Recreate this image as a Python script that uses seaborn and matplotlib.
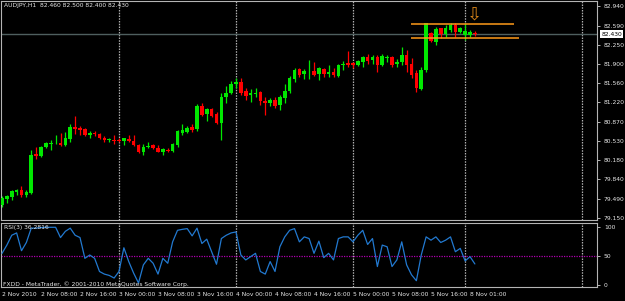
import numpy as np
import pandas as pd
import matplotlib
matplotlib.use("Agg")
import matplotlib.pyplot as plt
import seaborn as sns
from matplotlib import font_manager as fm

# ---------------- data ----------------
symbol_title = "AUDJPY,H1  82.460 82.500 82.400 82.430"
rsi_title = "RSI(3) 36.2816"
copyright_text = "FXDD - MetaTrader, \u00a9 2001-2010 MetaQuotes Software Corp."

opens = [79.382, 79.489, 79.525, 79.614, 79.650, 79.560, 79.596, 80.294, 80.258, 80.419,
         80.472, 80.481, 80.490, 80.454, 80.562, 80.776, 80.758, 80.740, 80.633, 80.669,
         80.651, 80.588, 80.544, 80.544, 80.549, 80.526, 80.567, 80.531, 80.454, 80.335,
         80.413, 80.449, 80.406, 80.335, 80.370, 80.352, 80.449, 80.674, 80.692, 80.782,
         80.735, 81.157, 81.003, 81.093, 81.003, 80.842, 81.318, 81.379, 81.545, 81.586,
         81.420, 81.348, 81.366, 81.407, 81.241, 81.200, 81.259, 81.170, 81.289, 81.425,
         81.629, 81.808, 81.724, 81.772, 81.783, 81.719, 81.813, 81.724, 81.765, 81.693,
         81.885, 81.915, 81.915, 81.885, 81.944, 82.033, 81.974, 82.033, 81.885, 82.015,
         82.022, 81.903, 81.944, 82.064, 81.903, 81.736, 81.456, 81.795, 82.452, 82.301,
         82.541, 82.439, 82.511, 82.600, 82.480, 82.421, 82.421, 82.460]
highs = [79.543, 79.560, 79.650, 79.668, 79.721, 79.650, 80.365, 80.419, 80.437, 80.508,
         80.544, 80.633, 80.669, 80.687, 80.830, 80.973, 80.794, 80.758, 80.705, 80.705,
         80.669, 80.615, 80.580, 80.633, 80.580, 80.588, 80.633, 80.633, 80.472, 80.472,
         80.508, 80.472, 80.454, 80.401, 80.401, 80.490, 80.723, 80.830, 80.794, 80.830,
         81.187, 81.205, 81.116, 81.116, 81.044, 81.379, 81.509, 81.604, 81.652, 81.658,
         81.468, 81.450, 81.474, 81.420, 81.307, 81.289, 81.307, 81.348, 81.545, 81.688,
         81.837, 81.837, 81.813, 81.974, 81.933, 81.854, 81.826, 81.885, 81.826, 81.903,
         81.956, 82.140, 81.944, 81.974, 82.046, 82.081, 82.064, 82.064, 82.081, 82.064,
         82.046, 81.992, 82.201, 82.153, 82.005, 81.795, 81.854, 82.641, 82.480, 82.570,
         82.555, 82.600, 82.630, 82.630, 82.570, 82.636, 82.511, 82.500]
lows = [79.346, 79.417, 79.471, 79.560, 79.525, 79.525, 79.578, 80.204, 80.240, 80.401,
        80.365, 80.472, 80.445, 80.437, 80.508, 80.651, 80.633, 80.615, 80.580, 80.615,
        80.562, 80.508, 80.499, 80.472, 80.508, 80.454, 80.508, 80.445, 80.311, 80.267,
        80.401, 80.383, 80.320, 80.276, 80.329, 80.329, 80.419, 80.633, 80.669, 80.687,
        80.710, 80.973, 80.884, 80.955, 80.830, 80.544, 81.211, 81.366, 81.474, 81.348,
        81.259, 81.229, 81.313, 81.170, 80.991, 81.157, 81.116, 81.080, 81.200, 81.379,
        81.586, 81.665, 81.629, 81.629, 81.688, 81.617, 81.676, 81.676, 81.665, 81.676,
        81.795, 81.844, 81.826, 81.867, 81.854, 81.903, 81.903, 81.765, 81.867, 81.944,
        81.854, 81.854, 81.885, 81.765, 81.647, 81.407, 81.438, 81.765, 82.301, 82.242,
        82.362, 82.391, 82.480, 82.391, 82.452, 82.332, 82.391, 82.400]
closes = [79.507, 79.543, 79.632, 79.650, 79.560, 79.614, 80.276, 80.249, 80.410, 80.490,
          80.490, 80.490, 80.454, 80.580, 80.776, 80.740, 80.723, 80.624, 80.669, 80.642,
          80.571, 80.544, 80.549, 80.526, 80.526, 80.580, 80.526, 80.454, 80.335, 80.419,
          80.437, 80.406, 80.329, 80.383, 80.352, 80.472, 80.705, 80.728, 80.764, 80.723,
          81.146, 80.991, 81.098, 80.978, 80.853, 81.318, 81.390, 81.545, 81.586, 81.390,
          81.331, 81.379, 81.390, 81.241, 81.200, 81.259, 81.157, 81.307, 81.425, 81.647,
          81.795, 81.706, 81.783, 81.783, 81.706, 81.826, 81.719, 81.754, 81.701, 81.885,
          81.903, 81.885, 81.885, 81.956, 82.022, 81.962, 82.022, 81.885, 82.046, 82.033,
          81.885, 81.944, 82.064, 81.885, 81.706, 81.468, 81.795, 82.630, 82.319, 82.528,
          82.439, 82.541, 82.600, 82.480, 82.541, 82.498, 82.480, 82.430]
rsi = [54.5, 68.8, 85.8, 89.8, 59.1, 73.3, 98.0, 98.0, 99.0, 99.5,
       99.5, 99.5, 81.8, 92.6, 98.0, 85.8, 81.8, 46.0, 51.7, 46.0,
       23.3, 18.8, 16.5, 12.0, 23.3, 64.2, 40.4, 20.5, 3.4, 34.7,
       46.0, 37.5, 18.8, 46.0, 37.5, 74.4, 94.3, 96.0, 97.2, 84.7,
       98.0, 71.6, 79.0, 57.4, 35.8, 80.1, 85.8, 89.8, 91.5, 51.7,
       43.2, 48.9, 54.6, 23.3, 18.8, 40.4, 23.3, 65.9, 83.0, 94.3,
       97.2, 74.4, 83.0, 80.1, 54.6, 75.6, 47.2, 54.6, 43.2, 80.1,
       83.0, 83.0, 74.4, 85.8, 94.3, 69.9, 80.1, 31.8, 68.8, 65.9,
       31.8, 43.2, 74.4, 34.7, 17.6, 7.4, 51.7, 83.0, 77.3, 83.0,
       73.3, 77.3, 83.0, 57.4, 63.1, 41.5, 48.9, 36.3]

price_ticks = [82.940, 82.590, 82.250, 81.900, 81.560, 81.220, 80.870,
               80.530, 80.180, 79.840, 79.490, 79.150]
price_labels = ["82.940", "82.590", "82.250", "81.900", "81.560", "81.220", "80.870",
                "80.530", "80.180", "79.840", "79.490", "79.150"]
last_price = 82.430
last_label = "82.430"
rsi_ticks = [0, 50, 100]
rsi_labels = ["0", "50", "100"]
time_bars = [0, 8, 16, 24, 32, 40, 48, 56, 64, 72, 80, 88, 96]
time_labels = ["2 Nov 2010", "2 Nov 08:00", "2 Nov 16:00", "3 Nov 00:00", "3 Nov 08:00",
               "3 Nov 16:00", "4 Nov 00:00", "4 Nov 08:00", "4 Nov 16:00", "5 Nov 00:00",
               "5 Nov 08:00", "5 Nov 16:00", "8 Nov 01:00"]
separator_bars = [24, 48, 72, 95, 119]
hline_prices = [82.618, 82.373]
hline_start = [83.9, 83.9]
hline_end = [105.0, 106.0]
arrow_bar = 96.9
arrow_price = 82.79

# ---------------- style ----------------
sns.set_style("dark", {"axes.facecolor": "black", "figure.facecolor": "black"})
avail = {f.name for f in fm.fontManager.ttflist}
FONT = "Liberation Sans Narrow" if "Liberation Sans Narrow" in avail else "DejaVu Sans"
plt.rcParams["font.family"] = [FONT, "DejaVu Sans"]
FS = 5.3 if FONT != "DejaVu Sans" else 4.3
TXT = "#e8e8e8"
FRAME = "#b4b4b4"
UP = "#00e800"
DN = "#ff0000"

W, H = 625, 301


def rect(x0, y0, x1, y1):
    return [x0 / W, 1 - y1 / H, (x1 - x0) / W, (y1 - y0) / H]


fig = plt.figure(figsize=(W / 100, H / 100), dpi=100, facecolor="black")
ax = fig.add_axes(rect(1, 1, 597, 220))
axr = fig.add_axes(rect(1, 223, 597, 287))

df = pd.DataFrame({"bar": np.arange(len(closes)), "open": opens, "high": highs,
                   "low": lows, "close": closes, "rsi": rsi})
up = df["close"] >= df["open"]
cols = np.where(up, UP, DN)
body_lo = np.minimum(df["open"], df["close"])
body_h = np.maximum((df["close"] - df["open"]).abs(), 0.012)

xlim = (-0.205, 122.05)

# main panel
ax.set_facecolor("black")
for b in separator_bars:
    ax.axvline(b, color="#b0b0b0", lw=0.9, ls=(0, (1.2, 1.0)), zorder=1)
ax.axhline(last_price, color="#4f5f5f", lw=1.0, zorder=1)
ax.vlines(df["bar"], df["low"], df["high"], colors=cols, lw=0.9, zorder=2)
ax.bar(df["bar"], body_h, bottom=body_lo, width=0.74, color=cols, linewidth=0, zorder=3)
ax.hlines(hline_prices, hline_start, hline_end, color="#ff9a1a", lw=1.1, zorder=4)
ax.text(arrow_bar, arrow_price, "\u21e9", color="#d88418", fontsize=13,
        ha="center", va="center", family="DejaVu Sans", zorder=5)
ax.set_xlim(*xlim)
ax.set_ylim(79.113, 83.029)
ax.set_xticks([])
ax.yaxis.tick_right()
ax.set_yticks(price_ticks)
ax.set_yticklabels(price_labels)
ax.tick_params(axis="y", length=2.5, width=0.7, color=FRAME, labelcolor=TXT,
               labelsize=FS, pad=2.5)
ax.grid(False)

# RSI panel
axr.set_facecolor("black")
for b in separator_bars:
    axr.axvline(b, color="#b0b0b0", lw=0.9, ls=(0, (1.2, 1.0)), zorder=1)
axr.axhline(50, color="#b000b0", lw=0.9, ls=(0, (1, 1)), zorder=1)
sns.lineplot(data=df, x="bar", y="rsi", ax=axr, color="#2279d0", lw=0.9, zorder=3)
axr.set_xlim(*xlim)
axr.set_ylim(-3.45, 106.9)
axr.set_xlabel("")
axr.set_ylabel("")
axr.yaxis.tick_right()
axr.set_yticks(rsi_ticks)
axr.set_yticklabels(rsi_labels)
axr.set_xticks(time_bars)
axr.set_xticklabels(time_labels, ha="left")
axr.tick_params(axis="y", length=2.5, width=0.7, color=FRAME, labelcolor=TXT,
                labelsize=FS, pad=2.5)
axr.tick_params(axis="x", length=2, width=0.7, color=FRAME, labelcolor=TXT,
                labelsize=FS, pad=1.5)
axr.grid(False)

for a in (ax, axr):
    for s in a.spines.values():
        s.set_color(FRAME)
        s.set_linewidth(0.8)
        s.set_visible(True)

# texts
fig.text(4 / W, 1 - 6 / H, symbol_title, color=TXT, fontsize=FS, va="center", ha="left")
fig.text(4 / W, 1 - 228 / H, rsi_title, color=TXT, fontsize=FS, va="center", ha="left")
fig.text(3 / W, 1 - 284 / H, copyright_text, color=TXT, fontsize=FS, va="center", ha="left")
fig.text(601.5 / W, 1 - 34 / H, last_label, color="black", fontsize=FS, va="center",
         ha="left", bbox=dict(facecolor="white", edgecolor="none", pad=0.8))

fig.savefig("out.png", dpi=100, facecolor="black")
